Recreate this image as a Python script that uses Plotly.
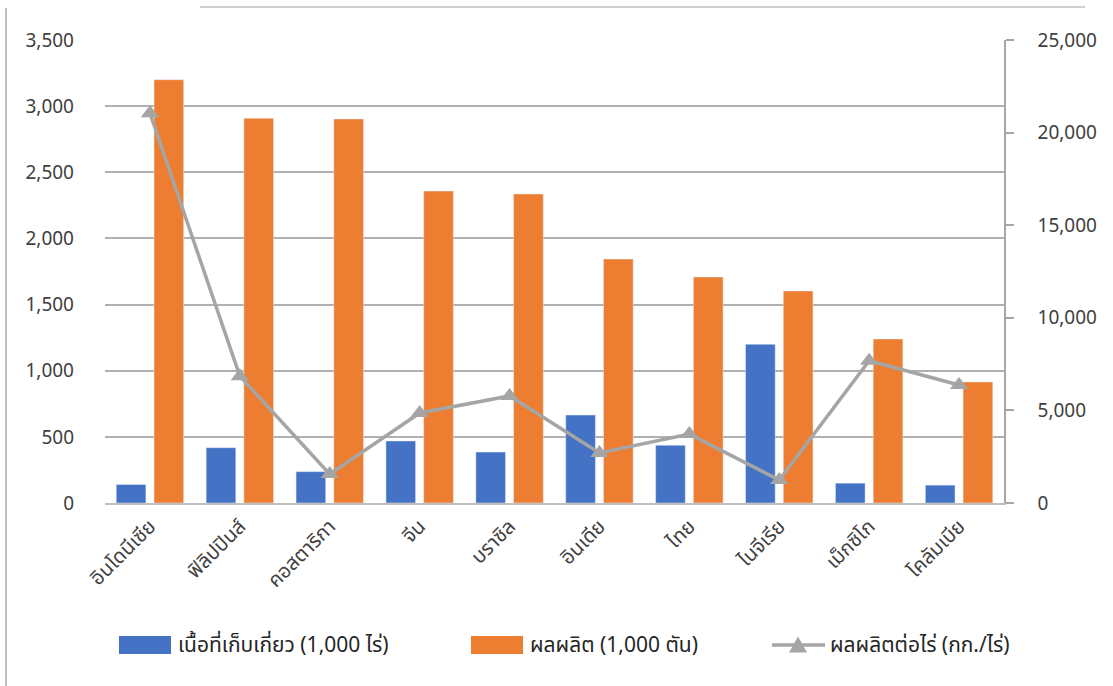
import plotly.graph_objects as go

# Countries (x categories)
countries = ["อินโดนีเซีย", "ฟิลิปปินส์", "คอสตาริกา", "จีน", "บราซิล",
             "อินเดีย", "ไทย", "ไนจีเรีย", "เม็กซิโก", "โคลัมเบีย"]
# Harvested area (1,000 rai)
area = [140, 418, 237, 469, 385, 665, 437, 1200, 150, 135]
# Production (1,000 tonnes)
production = [3200, 2908, 2903, 2358, 2336, 1844, 1708, 1603, 1240, 915]
# Yield per rai (kg/rai)
yield_per_rai = [21050, 6850, 1560, 4860, 5780, 2700, 3720, 1240, 7680, 6370]

left_ticks = [0, 500, 1000, 1500, 2000, 2500, 3000, 3500]
right_ticks = [0, 5000, 10000, 15000, 20000, 25000]

legend_names = ["เนื้อที่เก็บเกี่ยว (1,000 ไร่)", "ผลผลิต (1,000 ตัน)", "ผลผลิตต่อไร่ (กก./ไร่)"]

BLUE = "#4472C4"
ORANGE = "#ED7D31"
GRAY = "#A5A5A5"
FONT = "Noto Sans Thai, Noto Sans, Tahoma, sans-serif"

W, H = 1113, 686
L, R, T, B = 105, 1004, 40, 503  # plot area in pixels


def px(x):
    return (x - L) / (R - L)


def py(y):
    return (B - y) / (B - T)


fig = go.Figure()
fig.add_trace(go.Bar(x=countries, y=area, name=legend_names[0], marker_color=BLUE,
                     width=0.33, offset=-0.375, showlegend=False))
fig.add_trace(go.Bar(x=countries, y=production, name=legend_names[1], marker_color=ORANGE,
                     width=0.33, offset=0.045, showlegend=False))
fig.add_trace(go.Scatter(x=countries, y=yield_per_rai, name=legend_names[2], yaxis="y2",
                         mode="lines+markers",
                         line=dict(color=GRAY, width=3.5),
                         marker=dict(symbol="triangle-up", size=16, color=GRAY),
                         showlegend=False))

shapes = []
annotations = []
# legend: swatches and labels
for x0, x1, color, tx, name in [(119, 171, BLUE, 176, legend_names[0]),
                                (471, 523, ORANGE, 528, legend_names[1])]:
    shapes.append(dict(type="rect", xref="paper", yref="paper",
                       x0=px(x0), x1=px(x1), y0=py(654), y1=py(636),
                       fillcolor=color, line=dict(width=0)))
    annotations.append(dict(xref="paper", yref="paper", x=px(tx), y=py(645),
                            xanchor="left", yanchor="middle", showarrow=False,
                            text=name, font=dict(family=FONT, size=21, color="#262626")))
shapes.append(dict(type="line", xref="paper", yref="paper",
                   x0=px(772), x1=px(825), y0=py(645), y1=py(645),
                   line=dict(color=GRAY, width=3.5)))
cx, cy = 798, 645
tri = "M {} {} L {} {} L {} {} Z".format(px(cx - 9), py(cy + 7.5), px(cx + 9), py(cy + 7.5),
                                         px(cx), py(cy - 8.5))
shapes.append(dict(type="path", xref="paper", yref="paper", path=tri,
                   fillcolor=GRAY, line=dict(width=0)))
annotations.append(dict(xref="paper", yref="paper", x=px(828), y=py(645),
                        xanchor="left", yanchor="middle", showarrow=False,
                        text=legend_names[2], font=dict(family=FONT, size=21, color="#262626")))
# outer frame lines
shapes.append(dict(type="line", xref="paper", yref="paper",
                   x0=px(6), x1=px(6), y0=py(8), y1=py(686),
                   line=dict(color="#BFBFBF", width=2)))
shapes.append(dict(type="line", xref="paper", yref="paper",
                   x0=px(200), x1=px(1085), y0=py(7), y1=py(7),
                   line=dict(color="#BFBFBF", width=1.5)))

fig.update_layout(
    width=W, height=H,
    margin=dict(l=L, r=W - R, t=T, b=H - B),
    paper_bgcolor="white", plot_bgcolor="white",
    barmode="overlay",
    font=dict(family=FONT, size=19, color="#404040"),
    xaxis=dict(range=[-0.5, 9.5], tickangle=-45, showline=True, linecolor="#BFBFBF",
               linewidth=1.5, ticks="", tickfont=dict(size=20, color="#404040"),
               ticklabelstandoff=2),
    yaxis=dict(range=[0, 3500], tickvals=left_ticks, tickformat=",", showline=False,
               showgrid=True, gridcolor="#B0B0B0", gridwidth=1.5, zeroline=False,
               ticks="", ticklabelstandoff=30),
    yaxis2=dict(range=[0, 25000], tickvals=right_ticks, tickformat=",", overlaying="y",
                side="right", showgrid=False, zeroline=False, showline=True,
                linecolor="#A6A6A6", linewidth=1.5, ticks="outside", ticklen=8,
                tickcolor="#A6A6A6", tickwidth=1.5, ticklabelstandoff=20),
    shapes=shapes,
    annotations=annotations,
)

fig.write_html("out.html")
